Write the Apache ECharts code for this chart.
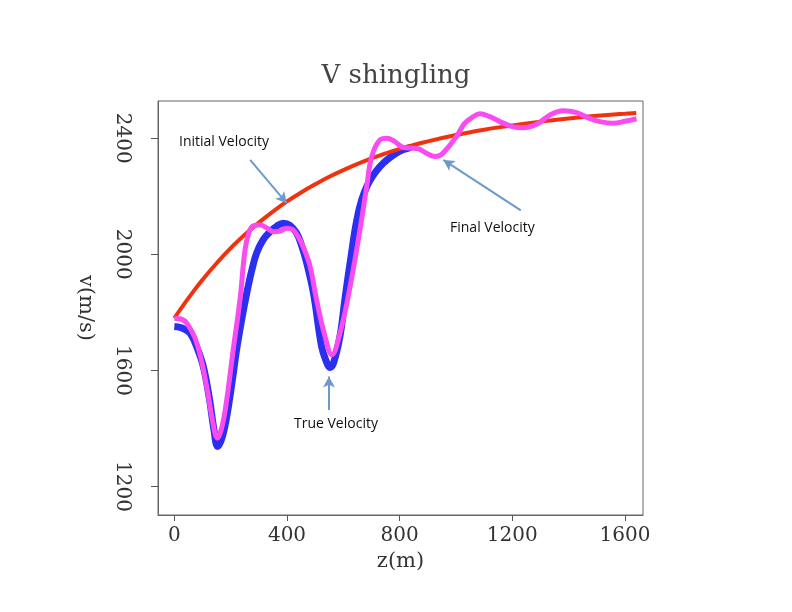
<!DOCTYPE html>
<html>
<head>
<meta charset="utf-8">
<script src="https://cdn.jsdelivr.net/npm/echarts@6/dist/echarts.min.js"></script>
<style>
  html, body { margin: 0; padding: 0; background: #fff; }
  #main { width: 792px; height: 612px; }
</style>
</head>
<body>
<div id="main"></div>
<script>
// depth (m) and velocity (m/s)
var zTrue = [0, 30, 56, 80, 103, 125, 140, 154, 170, 186, 205, 221, 240, 257, 275, 292, 315, 340, 365, 387, 410, 434, 452, 470, 494, 523, 540, 552, 565, 588, 605, 624, 653, 683, 730, 789, 840];
var vTrue = [1751, 1745, 1728, 1680, 1613, 1500, 1400, 1338, 1370, 1441, 1560, 1671, 1780, 1866, 1945, 2004, 2050, 2078, 2098, 2107, 2100, 2073, 2030, 1970, 1866, 1682, 1630, 1610, 1625, 1717, 1840, 1970, 2142, 2233, 2302, 2349, 2368];

var zInit = [0, 50, 100, 150, 200, 250, 300, 350, 400, 450, 500, 550, 600, 700, 800, 900, 1000, 1100, 1200, 1300, 1400, 1500, 1600, 1640];
var vInit = [1780, 1849, 1912, 1969, 2021, 2067, 2109, 2147, 2182, 2213, 2241, 2267, 2290, 2330, 2363, 2389, 2411, 2429, 2444, 2457, 2468, 2477, 2484, 2487];

var zFinal = [0, 20, 44, 80, 115, 135, 153, 170, 186, 209, 233, 251, 265, 280, 304, 330, 351, 375, 399, 420, 440, 460, 482, 505, 535, 559, 588, 624, 659, 683, 701, 730, 754, 780, 813, 840, 865, 895, 925, 950, 1002, 1030, 1061, 1085, 1120, 1156, 1200, 1239, 1290, 1334, 1381, 1428, 1470, 1511, 1558, 1600, 1641];
var vFinal = [1780, 1778, 1763, 1694, 1544, 1430, 1367, 1410, 1499, 1671, 1843, 2015, 2075, 2098, 2101, 2090, 2078, 2080, 2090, 2085, 2060, 2020, 1958, 1843, 1717, 1654, 1728, 1889, 2084, 2233, 2337, 2394, 2400, 2390, 2368, 2366, 2364, 2348, 2337, 2345, 2406, 2450, 2474, 2484, 2474, 2457, 2440, 2436, 2450, 2480, 2494, 2488, 2470, 2457, 2451, 2458, 2467];

var xTicks = [0, 400, 800, 1200, 1600];
var yTicks = [1200, 1600, 2000, 2400];

// arrow annotations: [start, end] in data coords
var arrows = [
    [[269, 2325], [399, 2176]],
    [[1230, 2151], [955, 2325]],
    [[549, 1464], [549, 1579]]
];

function pairs(z, v) {
    return z.map(function (d, i) { return [d, v[i]]; });
}

var chart = echarts.init(document.getElementById('main'));

var serifFont = '"DejaVu Serif", "Liberation Serif", serif';
var noteFont = '"Open Sans", Lato, sans-serif';
var plain = function (v) { return String(v); };

var option = {
    backgroundColor: '#fff',
    animation: false,
    title: {
        text: 'V shingling',
        left: 'center',
        top: 58,
        textStyle: {
            fontFamily: serifFont,
            fontSize: 26,
            fontWeight: 'normal',
            color: '#444'
        }
    },
    grid: {
        left: 158,
        right: 149,
        top: 101,
        bottom: 97,
        show: true,
        borderColor: '#666',
        borderWidth: 1
    },
    xAxis: {
        type: 'value',
        min: -58,
        max: 1664,
        name: 'z(m)',
        nameLocation: 'middle',
        nameGap: 32,
        nameTextStyle: { fontFamily: serifFont, fontSize: 21, color: '#333' },
        axisLine: { show: true, onZero: false, lineStyle: { color: '#666' } },
        axisTick: { show: true, length: 6, lineStyle: { color: '#555' }, customValues: xTicks },
        axisLabel: {
            customValues: xTicks,
            formatter: plain,
            margin: 11,
            fontFamily: serifFont,
            fontSize: 20,
            color: '#333'
        },
        splitLine: { show: false }
    },
    yAxis: {
        type: 'value',
        min: 1102,
        max: 2528,
        name: 'v(m/s)',
        nameLocation: 'middle',
        nameRotate: -90,
        nameGap: 62,
        nameTextStyle: { fontFamily: serifFont, fontSize: 21, color: '#333' },
        axisLine: { show: true, onZero: false, lineStyle: { color: '#666' } },
        axisTick: { show: true, length: 7, lineStyle: { color: '#555' }, customValues: yTicks },
        axisLabel: {
            customValues: yTicks,
            formatter: plain,
            rotate: -90,
            margin: 26,
            fontFamily: serifFont,
            fontSize: 20,
            color: '#333'
        },
        splitLine: { show: false }
    },
    series: [
        {
            name: 'True Velocity',
            type: 'line',
            data: pairs(zTrue, vTrue),
            smooth: 0.4,
            showSymbol: false,
            lineStyle: { color: '#2a2ff0', width: 7 },
            z: 2
        },
        {
            name: 'Initial Velocity',
            type: 'line',
            data: pairs(zInit, vInit),
            smooth: 0.4,
            showSymbol: false,
            lineStyle: { color: '#f0320f', width: 4 },
            z: 3,
            markLine: {
                silent: true,
                symbol: ['none', 'arrow'],
                symbolSize: [9, 11],
                label: { show: false },
                lineStyle: { color: '#6d9acb', width: 2, type: 'solid' },
                data: arrows.map(function (a) {
                    return [{ coord: a[0] }, { coord: a[1] }];
                })
            }
        },
        {
            name: 'Final Velocity',
            type: 'line',
            data: pairs(zFinal, vFinal),
            smooth: 0.4,
            showSymbol: false,
            lineStyle: { color: '#f84cf0', width: 5 },
            z: 4
        }
    ],
    graphic: [
        { type: 'text', left: 179, top: 135, style: { text: 'Initial Velocity', font: '14px ' + noteFont, fill: '#111' } },
        { type: 'text', left: 450, top: 221, style: { text: 'Final Velocity', font: '14px ' + noteFont, fill: '#111' } },
        { type: 'text', left: 294, top: 417, style: { text: 'True Velocity', font: '14px ' + noteFont, fill: '#111' } }
    ]
};

chart.setOption(option);
</script>
</body>
</html>
